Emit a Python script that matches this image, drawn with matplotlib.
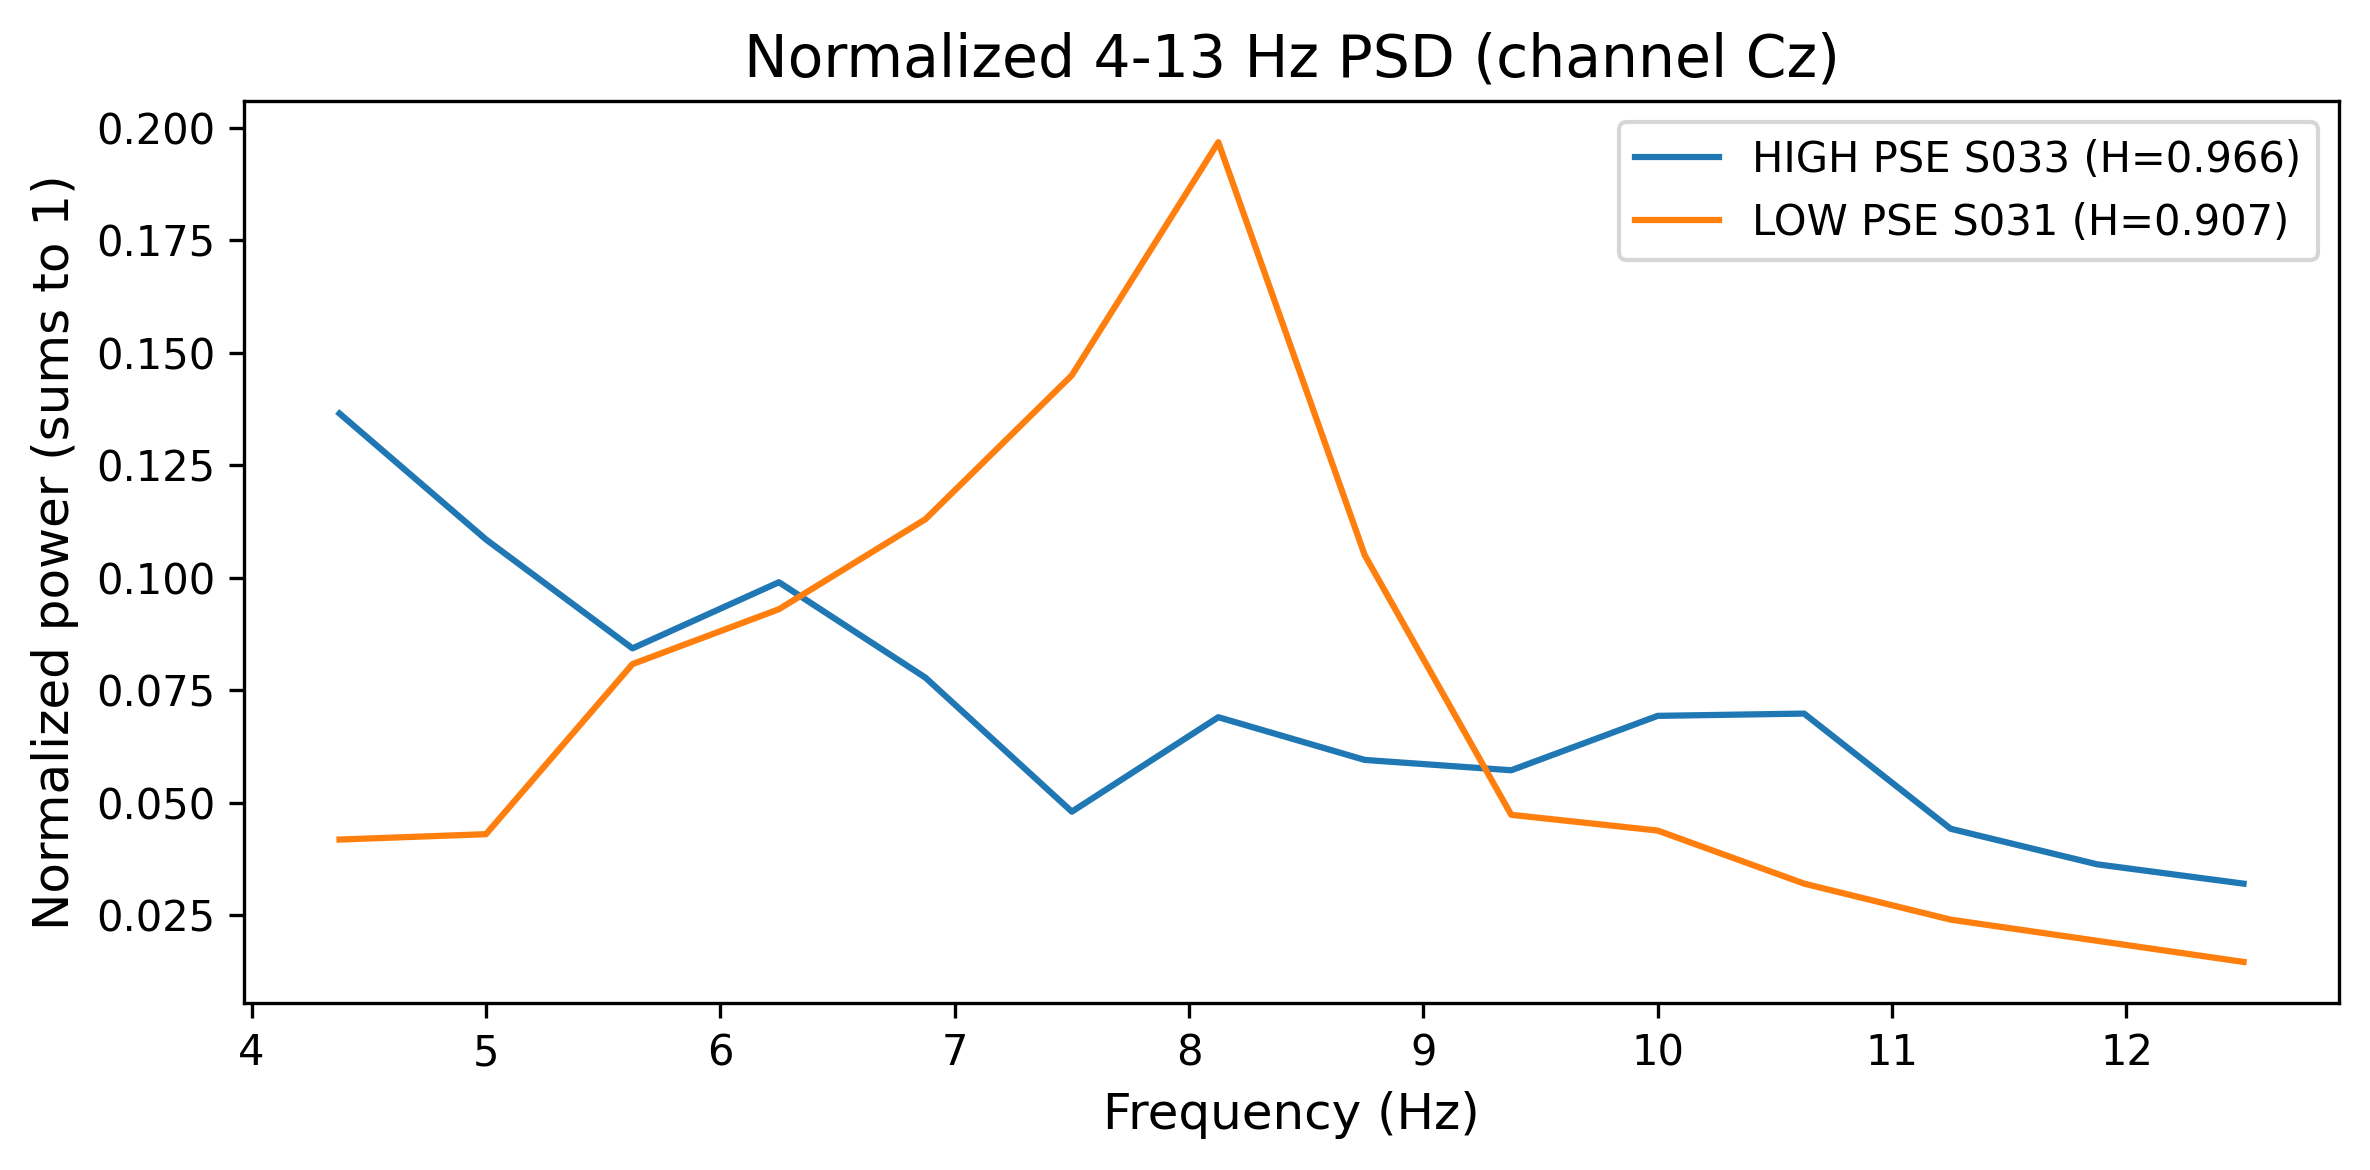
import matplotlib
matplotlib.use("Agg")
import matplotlib.pyplot as plt
import numpy as np

# frequency bins (Hz)
freqs = [4.375, 5.0, 5.625, 6.25, 6.875, 7.5, 8.125, 8.75, 9.375, 10.0, 10.625, 11.25, 11.875, 12.5]

# normalized PSD values
high_pse = [0.1365, 0.1085, 0.0843, 0.0990, 0.0778, 0.0480, 0.0690, 0.0595, 0.0572, 0.0693, 0.0698, 0.0442, 0.0363, 0.0320]
low_pse = [0.0418, 0.0430, 0.0808, 0.0930, 0.1130, 0.1450, 0.1968, 0.1050, 0.0473, 0.0438, 0.0320, 0.0240, 0.0193, 0.0146]

high_label = "HIGH PSE S033 (H=0.966)"
low_label = "LOW PSE S031 (H=0.907)"

fig, ax = plt.subplots(figsize=(7.9, 3.9), dpi=300)
ax.plot(freqs, high_pse, label=high_label)
ax.plot(freqs, low_pse, label=low_label)
ax.set_title("Normalized 4-13 Hz PSD (channel Cz)", fontsize=14)
ax.set_xlabel("Frequency (Hz)", fontsize=12)
ax.set_ylabel("Normalized power (sums to 1)", fontsize=12)
ax.legend(loc="upper right")
fig.tight_layout(pad=0.75)
fig.savefig("out.png", dpi=300)
